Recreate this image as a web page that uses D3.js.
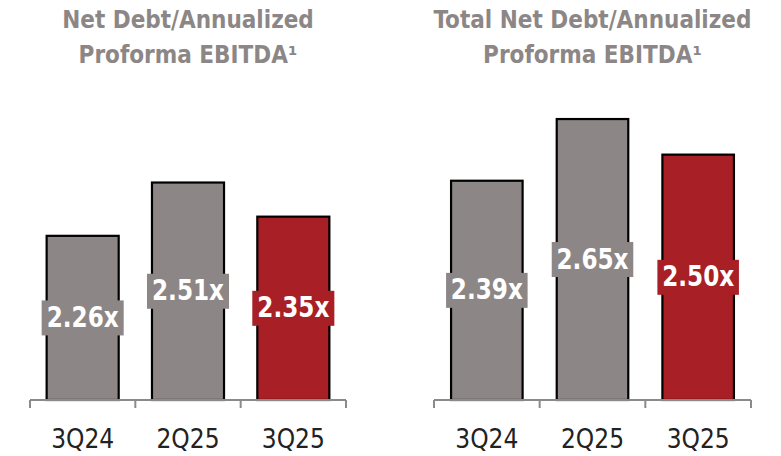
<!DOCTYPE html>
<html>
<head>
<meta charset="utf-8">
<script src="https://cdn.jsdelivr.net/npm/d3@7"></script>
<style>
  html, body { margin: 0; padding: 0; background: #fff; }
  svg { display: block; }
</style>
</head>
<body>
<svg id="chart" width="781" height="456"></svg>
<script>
// Leverage ratios by quarter
const categories = ["3Q24", "2Q25", "3Q25"];
const netDebtValues = [2.26, 2.51, 2.35];
const totalNetDebtValues = [2.39, 2.65, 2.50];
const valueLabelsLeft = ["2.26x", "2.51x", "2.35x"];
const valueLabelsRight = ["2.39x", "2.65x", "2.50x"];
const titleLeft = ["Net Debt/Annualized", "Proforma EBITDA\u00B9"];
const titleRight = ["Total Net Debt/Annualized", "Proforma EBITDA\u00B9"];

const GRAY = "#8c8786";
const RED = "#a81f25";
const colors = [GRAY, GRAY, RED];

const svg = d3.select("#chart");
const baseY = 400;

function panel(opts) {
  const g = svg.append("g");
  const x = d3.scaleBand().domain(categories).range(opts.xRange)
    .paddingInner(opts.pad).paddingOuter(opts.pad / 2);
  const y = d3.scaleLinear().domain(opts.yDomain).range([baseY, opts.yTop]);
  const cx = (opts.xRange[0] + opts.xRange[1]) / 2;

  // title
  const t = g.append("text")
    .attr("x", cx)
    .attr("text-anchor", "middle")
    .attr("fill", GRAY)
    .style("font-family", "'DejaVu Sans Condensed', 'DejaVu Sans', sans-serif")
    .style("font-stretch", "condensed")
    .style("font-weight", "bold")
    .style("font-size", "24px");
  opts.title.forEach((line, i) => {
    t.append("tspan").attr("x", cx).attr("y", 28 + i * 35).text(line);
  });

  // bars
  g.selectAll("rect.bar").data(opts.values).join("rect")
    .attr("class", "bar")
    .attr("x", (d, i) => x(categories[i]))
    .attr("y", d => y(d))
    .attr("width", x.bandwidth())
    .attr("height", d => baseY - y(d))
    .attr("fill", (d, i) => colors[i])
    .attr("stroke", "#000")
    .attr("stroke-width", 2.2);

  // value labels centered on each bar
  const lab = g.selectAll("g.lab").data(opts.values).join("g")
    .attr("class", "lab")
    .attr("transform", (d, i) => `translate(${x(categories[i]) + x.bandwidth() / 2},${(y(d) + baseY) / 2})`);
  lab.append("rect")
    .attr("x", -(x.bandwidth() / 2 + 5))
    .attr("y", -17.5)
    .attr("width", x.bandwidth() + 10)
    .attr("height", 35)
    .attr("fill", (d, i) => colors[i]);
  lab.append("text")
    .attr("text-anchor", "middle")
    .attr("y", 9)
    .attr("fill", "#fff")
    .attr("textLength", 72)
    .attr("lengthAdjust", "spacingAndGlyphs")
    .style("font-family", "'DejaVu Sans Condensed', 'DejaVu Sans', sans-serif")
    .style("font-stretch", "condensed")
    .style("font-weight", "bold")
    .style("font-size", "29px")
    .text((d, i) => opts.labels[i]);

  // category axis with boundary ticks
  const r = x.range();
  const axis = g.append("g").attr("stroke", "#8a8a8a").attr("stroke-width", 2).attr("fill", "none");
  axis.append("line").attr("x1", r[0]).attr("x2", r[1]).attr("y1", baseY).attr("y2", baseY);
  const bounds = categories.map(c => x(c) - x.step() * x.paddingOuter()).concat([r[1]]);
  axis.selectAll("line.tick").data(bounds).join("line")
    .attr("class", "tick")
    .attr("x1", d => d).attr("x2", d => d)
    .attr("y1", baseY).attr("y2", baseY + 8);

  g.selectAll("text.cat").data(categories).join("text")
    .attr("class", "cat")
    .attr("x", d => x(d) + x.bandwidth() / 2)
    .attr("y", 447.5)
    .attr("text-anchor", "middle")
    .attr("fill", "#222")
    .style("font-family", "'DejaVu Sans Condensed', 'DejaVu Sans', sans-serif")
    .style("font-stretch", "condensed")
    .style("font-size", "26px")
    .text(d => d);
}

panel({
  xRange: [30, 346], pad: 0.316,
  yDomain: [1.49, 2.55], yTop: 400 - 1.06 * 213.2,
  values: netDebtValues, labels: valueLabelsLeft, title: titleLeft
});
panel({
  xRange: [434, 751], pad: 0.323,
  yDomain: [1.466, 2.7], yTop: 400 - 1.234 * 237.3,
  values: totalNetDebtValues, labels: valueLabelsRight, title: titleRight
});
</script>
</body>
</html>
